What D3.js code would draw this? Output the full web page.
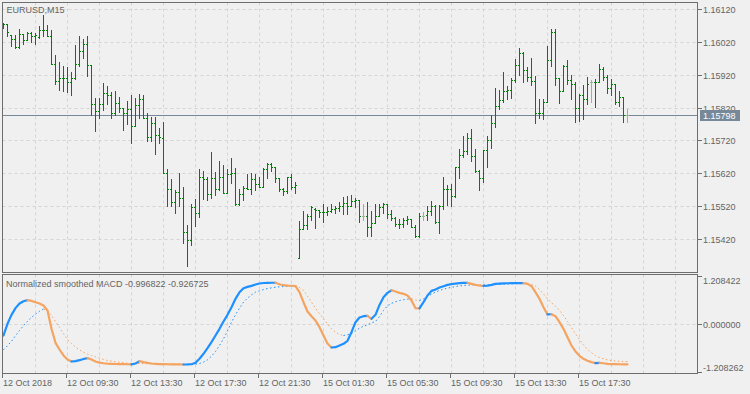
<!DOCTYPE html>
<html><head><meta charset="utf-8">
<script src="https://cdn.jsdelivr.net/npm/d3@7"></script>
<style>
html,body{margin:0;padding:0;background:#f0f0f0;}
svg{display:block;}
text{font-family:"Liberation Sans",Arial,sans-serif;font-size:9px;fill:#646464;}
</style></head><body>
<svg id="c" width="750" height="394"></svg>
<script>
const symbolLabel = "EURUSD,M15";
const indicatorLabel = "Normalized smoothed MACD -0.996822 -0.926725";

const openP = [1.16065,1.16073,1.16040,1.16029,1.16005,1.16043,1.16026,1.16046,1.16039,1.16036,1.16056,1.16056,1.16038,1.15952,1.15901,1.15909,1.15911,1.15897,1.15911,1.15952,
1.15992,1.16012,1.15950,1.15832,1.15810,1.15830,1.15864,1.15858,1.15802,1.15833,1.15818,1.15803,1.15817,1.15763,1.15828,1.15846,1.15788,1.15729,1.15773,1.15735,
1.15727,1.15620,1.15573,1.15534,1.15563,1.15544,1.15440,1.15418,1.15518,1.15499,1.15608,1.15603,1.15557,1.15605,1.15573,1.15609,1.15559,1.15617,1.15621,1.15526,
1.15557,1.15575,1.15573,1.15603,1.15587,1.15577,1.15634,1.15648,1.15638,1.15607,1.15573,1.15565,1.15609,1.15577,1.15362,1.15450,1.15464,1.15489,1.15512,1.15507,
1.15503,1.15501,1.15504,1.15511,1.15513,1.15519,1.15531,1.15521,1.15535,1.15539,1.15491,1.15491,1.15456,1.15470,1.15491,1.15517,1.15527,1.15497,1.15485,1.15466,
1.15467,1.15479,1.15481,1.15458,1.15428,1.15491,1.15492,1.15506,1.15520,1.15472,1.15520,1.15571,1.15573,1.15551,1.15640,1.15676,1.15688,1.15727,1.15672,1.15627,
1.15607,1.15690,1.15721,1.15773,1.15824,1.15842,1.15869,1.15873,1.15903,1.15950,1.15986,1.15933,1.15913,1.15901,1.15802,1.15804,1.15836,1.15964,1.16049,1.15909,
1.15869,1.15946,1.15905,1.15893,1.15820,1.15858,1.15846,1.15897,1.15897,1.15899,1.15938,1.15913,1.15881,1.15891,1.15838,1.15852,1.15798];

const highP = [1.16078,1.16073,1.16041,1.16041,1.16059,1.16045,1.16049,1.16049,1.16047,1.16069,1.16102,1.16071,1.16057,1.15980,1.15958,1.15945,1.15944,1.15927,1.16010,1.16039,
1.16029,1.16039,1.15950,1.15850,1.15848,1.15895,1.15885,1.15867,1.15871,1.15852,1.15818,1.15840,1.15858,1.15848,1.15861,1.15858,1.15802,1.15790,1.15792,1.15759,
1.15777,1.15632,1.15603,1.15570,1.15621,1.15577,1.15463,1.15526,1.15542,1.15634,1.15628,1.15610,1.15686,1.15623,1.15656,1.15646,1.15634,1.15666,1.15636,1.15573,
1.15580,1.15617,1.15620,1.15617,1.15610,1.15636,1.15650,1.15652,1.15640,1.15607,1.15575,1.15609,1.15617,1.15593,1.15476,1.15504,1.15497,1.15519,1.15513,1.15509,
1.15527,1.15517,1.15525,1.15521,1.15533,1.15547,1.15551,1.15554,1.15545,1.15539,1.15527,1.15533,1.15505,1.15527,1.15527,1.15529,1.15527,1.15509,1.15487,1.15481,
1.15483,1.15491,1.15482,1.15462,1.15499,1.15502,1.15520,1.15536,1.15522,1.15522,1.15609,1.15585,1.15587,1.15640,1.15694,1.15733,1.15743,1.15755,1.15694,1.15629,
1.15690,1.15733,1.15796,1.15881,1.15873,1.15929,1.15887,1.15909,1.15968,1.16000,1.15988,1.15944,1.15972,1.15917,1.15846,1.15846,1.16008,1.16059,1.16059,1.15911,
1.15950,1.15966,1.15919,1.15897,1.15861,1.15889,1.15913,1.15903,1.15907,1.15952,1.15942,1.15919,1.15907,1.15891,1.15871,1.15852,1.15816];

const lowP = [1.16062,1.16039,1.16008,1.16002,1.16000,1.16012,1.16025,1.16021,1.16012,1.16033,1.16037,1.16037,1.15952,1.15893,1.15875,1.15871,1.15867,1.15858,1.15907,1.15948,
1.15970,1.15917,1.15798,1.15749,1.15788,1.15812,1.15832,1.15788,1.15798,1.15806,1.15751,1.15769,1.15712,1.15763,1.15788,1.15788,1.15719,1.15717,1.15680,1.15711,
1.15620,1.15519,1.15519,1.15498,1.15519,1.15407,1.15337,1.15403,1.15461,1.15488,1.15542,1.15538,1.15546,1.15553,1.15570,1.15559,1.15559,1.15589,1.15522,1.15524,
1.15539,1.15571,1.15557,1.15570,1.15577,1.15577,1.15607,1.15626,1.15593,1.15567,1.15553,1.15559,1.15573,1.15559,1.15362,1.15450,1.15450,1.15478,1.15452,1.15487,
1.15471,1.15493,1.15503,1.15499,1.15505,1.15497,1.15497,1.15519,1.15517,1.15473,1.15478,1.15428,1.15430,1.15468,1.15491,1.15499,1.15485,1.15479,1.15460,1.15452,
1.15458,1.15466,1.15456,1.15426,1.15426,1.15479,1.15478,1.15494,1.15470,1.15439,1.15512,1.15522,1.15520,1.15549,1.15605,1.15670,1.15678,1.15656,1.15625,1.15569,
1.15593,1.15640,1.15696,1.15761,1.15816,1.15838,1.15846,1.15848,1.15897,1.15919,1.15897,1.15901,1.15889,1.15773,1.15788,1.15786,1.15836,1.15948,1.15889,1.15834,
1.15869,1.15893,1.15846,1.15777,1.15779,1.15786,1.15832,1.15836,1.15822,1.15899,1.15903,1.15863,1.15858,1.15830,1.15824,1.15777,1.15777];

const closeP = [1.16073,1.16049,1.16029,1.16005,1.16043,1.16026,1.16048,1.16039,1.16040,1.16056,1.16057,1.16038,1.15952,1.15901,1.15909,1.15911,1.15897,1.15911,1.15952,1.15992,
1.16012,1.15950,1.15832,1.15810,1.15830,1.15864,1.15858,1.15802,1.15833,1.15818,1.15803,1.15817,1.15763,1.15828,1.15846,1.15788,1.15729,1.15773,1.15735,1.15729,
1.15620,1.15573,1.15534,1.15563,1.15544,1.15440,1.15418,1.15518,1.15499,1.15608,1.15603,1.15557,1.15605,1.15573,1.15609,1.15559,1.15617,1.15621,1.15526,1.15557,
1.15575,1.15573,1.15603,1.15587,1.15577,1.15634,1.15648,1.15638,1.15607,1.15573,1.15565,1.15609,1.15577,1.15585,1.15450,1.15464,1.15489,1.15517,1.15507,1.15503,
1.15501,1.15504,1.15511,1.15513,1.15519,1.15531,1.15521,1.15535,1.15539,1.15491,1.15491,1.15456,1.15470,1.15491,1.15517,1.15527,1.15497,1.15485,1.15466,1.15467,
1.15479,1.15481,1.15458,1.15428,1.15491,1.15491,1.15506,1.15520,1.15472,1.15520,1.15571,1.15573,1.15551,1.15640,1.15676,1.15688,1.15727,1.15672,1.15627,1.15607,
1.15690,1.15721,1.15773,1.15824,1.15842,1.15869,1.15873,1.15903,1.15950,1.15986,1.15933,1.15913,1.15901,1.15802,1.15804,1.15836,1.15964,1.16049,1.15909,1.15869,
1.15946,1.15905,1.15893,1.15820,1.15858,1.15846,1.15893,1.15897,1.15899,1.15938,1.15913,1.15881,1.15891,1.15838,1.15852,1.15796,1.15798];

const macdValues = [-0.275,0.017,0.24,0.41,0.525,0.583,0.61,0.59,0.558,0.525,0.475,0.35,-0.108,-0.458,-0.625,-0.775,-0.875,-0.925,-0.915,-0.893,
-0.862,-0.842,-0.875,-0.925,-0.955,-0.97,-0.98,-0.985,-0.988,-0.99,-0.992,-0.994,-0.996,-0.975,-0.917,-0.94,-0.958,-0.975,-0.983,-0.99,
-0.993,-0.995,-0.996,-0.997,-0.998,-1.0,-0.999,-0.995,-0.958,-0.858,-0.733,-0.592,-0.442,-0.275,-0.108,0.075,0.242,0.433,0.642,0.808,
0.908,0.942,0.967,1.0,1.025,1.038,1.042,1.044,1.045,1.008,0.983,0.975,0.97,0.958,0.808,0.558,0.325,0.208,0.1,-0.067,
-0.275,-0.475,-0.575,-0.567,-0.525,-0.483,-0.408,-0.192,0.058,0.175,0.208,0.215,0.142,0.242,0.49,0.683,0.792,0.858,0.825,0.792,
0.767,0.725,0.6,0.408,0.405,0.558,0.725,0.842,0.875,0.925,0.958,0.992,1.008,1.025,1.033,1.04,1.042,1.017,0.992,0.975,
0.967,0.97,0.992,1.017,1.025,1.03,1.032,1.033,1.034,1.035,1.036,1.017,0.958,0.808,0.642,0.433,0.252,0.256,0.208,0.058,
-0.108,-0.317,-0.525,-0.675,-0.783,-0.858,-0.908,-0.942,-0.967,-0.96,-0.97,-0.983,-0.99,-0.993,-0.995,-0.996,-0.996822];

const signalValues = [-0.633,-0.53,-0.42,-0.28,-0.15,-0.03,0.08,0.18,0.26,0.33,0.385,0.35,0.225,0.075,-0.075,-0.233,-0.375,-0.475,-0.567,-0.633,
-0.692,-0.742,-0.775,-0.808,-0.842,-0.875,-0.9,-0.917,-0.933,-0.942,-0.958,-0.967,-0.972,-0.975,-0.976,-0.978,-0.98,-0.982,-0.984,-0.986,
-0.988,-0.99,-0.992,-0.993,-0.994,-0.995,-0.996,-0.997,-0.994,-0.975,-0.942,-0.883,-0.792,-0.675,-0.525,-0.358,-0.158,0.058,0.242,0.408,
0.558,0.658,0.742,0.808,0.842,0.875,0.9,0.917,0.933,0.942,0.95,0.958,0.967,0.975,0.925,0.85,0.708,0.558,0.408,0.267,
0.142,0.017,-0.108,-0.192,-0.25,-0.275,-0.258,-0.225,-0.158,-0.092,-0.042,-0.008,0.042,0.075,0.2,0.35,0.47,0.53,0.57,0.6,
0.62,0.635,0.645,0.61,0.6,0.64,0.7,0.76,0.81,0.85,0.885,0.91,0.93,0.95,0.965,0.975,0.985,0.99,0.995,0.993,
0.99,0.991,0.995,1.0,1.005,1.01,1.014,1.018,1.021,1.024,1.026,1.027,1.008,0.958,0.875,0.767,0.642,0.542,0.458,0.35,
0.225,0.075,-0.075,-0.233,-0.375,-0.508,-0.625,-0.708,-0.775,-0.825,-0.858,-0.885,-0.903,-0.913,-0.92,-0.924,-0.926725];

const priceTicks = [1.16120,1.16020,1.15920,1.15820,1.15720,1.15620,1.15520,1.15420];
const macdTicks = [1.208422, 0, -1.208262];
const macdTickLabels = ["1.208422","0.000000","-1.208262"];
const timeLabels = ["12 Oct 2018","12 Oct 09:30","12 Oct 13:30","12 Oct 17:30","12 Oct 21:30","15 Oct 01:30","15 Oct 05:30","15 Oct 09:30","15 Oct 13:30","15 Oct 17:30"];
const timeLabelBars = [0,16,32,48,64,80,96,112,128,144];
const gridBars = [8,16,24,32,40,48,56,64,72,80,88,96,104,112,120,128,136,144,152,160,168];
const currentPrice = 1.15798;

const N = closeP.length;
const svg = d3.select("#c");
const C = {bg:"#f0f0f0", frame:"#6e6e6e", grid:"#d4d4d4", text:"#5a5a5a", bar:"#008000", doji:"#a8a8a8",
  up:"#1e90ff", down:"#f4a460", cur:"#778899"};

svg.append("rect").attr("width",750).attr("height",394).attr("fill",C.bg);

const x = d3.scaleLinear().domain([0, N-1]).range([3.5, 3.5 + 4*(N-1)]);
const yP = d3.scaleLinear().domain([1.15420, 1.16120]).range([239.5, 9.5]);
const yM = d3.scaleLinear().domain([-1.208262, 1.208422]).range([372.8, 276.2]);

const main = {x0:2.5, x1:697.5, y0:2.5, y1:272.5};
const sub = {x0:2.5, x1:697.5, y0:274.5, y1:373.5};

const defs = svg.append("defs");
defs.append("clipPath").attr("id","cm").append("rect").attr("x",3).attr("y",3).attr("width",694).attr("height",269);
defs.append("clipPath").attr("id","cs").append("rect").attr("x",3).attr("y",275).attr("width",694).attr("height",98);

// grids
const gM = svg.append("g").attr("clip-path","url(#cm)");
const gS = svg.append("g").attr("clip-path","url(#cs)");
gridBars.forEach(b => {
  const gx = Math.round(x(b)-0.5)+0.5;
  gM.append("line").attr("x1",gx).attr("x2",gx).attr("y1",main.y0).attr("y2",main.y1)
    .attr("stroke",C.grid).attr("stroke-dasharray","3,3");
  gS.append("line").attr("x1",gx).attr("x2",gx).attr("y1",sub.y0).attr("y2",sub.y1)
    .attr("stroke",C.grid).attr("stroke-dasharray","3,3");
});
priceTicks.forEach(p => {
  const gy = Math.floor(yP(p))+0.5;
  gM.append("line").attr("x1",main.x0).attr("x2",main.x1).attr("y1",gy).attr("y2",gy)
    .attr("stroke",C.grid).attr("stroke-dasharray","3,3");
});
{
  const gy = Math.floor(yM(0))+0.5;
  gS.append("line").attr("x1",sub.x0).attr("x2",sub.x1).attr("y1",gy).attr("y2",gy)
    .attr("stroke",C.grid).attr("stroke-dasharray","3,3");
}

// current price line
{
  const cy = Math.floor(yP(currentPrice))+0.5;
  gM.append("line").attr("x1",main.x0).attr("x2",main.x1).attr("y1",cy).attr("y2",cy)
    .attr("stroke",C.cur).attr("stroke-width",1);
}

// bars
const gb = gM.append("g").attr("shape-rendering","crispEdges");
for (let i=0;i<N;i++){
  const col = Math.floor(x(i));
  const color = openP[i]===closeP[i] ? C.doji : C.bar;
  const yh = Math.floor(yP(highP[i])), yl = Math.floor(yP(lowP[i]));
  gb.append("rect").attr("x",col).attr("y",yh).attr("width",1).attr("height",Math.max(1,yl-yh+1)).attr("fill",color);
  gb.append("rect").attr("x",col-1).attr("y",Math.floor(yP(openP[i]))).attr("width",1).attr("height",1).attr("fill",color);
  gb.append("rect").attr("x",col+1).attr("y",Math.floor(yP(closeP[i]))).attr("width",1).attr("height",1).attr("fill",color);
}

// colored lines
function colorRuns(vals){
  const cols = [];
  let prev = C.up;
  for (let i=0;i<vals.length;i++){
    let c = prev;
    if (i>0){ if (vals[i]>vals[i-1]) c=C.up; else if (vals[i]<vals[i-1]) c=C.down; }
    cols.push(c); prev=c;
  }
  const runs=[]; let cur=null;
  for (let i=1;i<vals.length;i++){
    if (!cur || cur.color!==cols[i]){ cur={color:cols[i], pts:[i-1]}; runs.push(cur); }
    cur.pts.push(i);
  }
  return runs;
}
const lineGen = vals => d3.line().x(i=>x(i)).y(i=>yM(vals[i]));
colorRuns(signalValues).forEach(r=>{
  gS.append("path").attr("d",lineGen(signalValues)(r.pts)).attr("fill","none")
    .attr("stroke",r.color).attr("stroke-width",1).attr("stroke-dasharray","1.5,2.5");
});
colorRuns(macdValues).forEach(r=>{
  gS.append("path").attr("d",lineGen(macdValues)(r.pts)).attr("fill","none")
    .attr("stroke",r.color).attr("stroke-width",2.2).attr("stroke-linejoin","round").attr("stroke-linecap","round");
});

// frames
const fr = svg.append("g").attr("shape-rendering","crispEdges");
[main, sub].forEach(p=>{
  fr.append("rect").attr("x",p.x0).attr("y",p.y0).attr("width",p.x1-p.x0).attr("height",p.y1-p.y0)
    .attr("fill","none").attr("stroke",C.frame).attr("stroke-width",1);
});

// price axis
const ax = svg.append("g");
priceTicks.forEach(p=>{
  const ty = Math.floor(yP(p))+0.5;
  ax.append("line").attr("x1",697.5).attr("x2",701.5).attr("y1",ty).attr("y2",ty).attr("stroke",C.frame).attr("shape-rendering","crispEdges");
  ax.append("text").attr("x",703).attr("y",ty+3.5).text(d3.format(".5f")(p));
});
macdTicks.forEach((v,k)=>{
  const ty = Math.floor(yM(v))+0.5;
  ax.append("line").attr("x1",697.5).attr("x2",701.5).attr("y1",ty).attr("y2",ty).attr("stroke",C.frame).attr("shape-rendering","crispEdges");
  const ly = Math.min(Math.max(ty, 280), 367.5);
  ax.append("text").attr("x",703).attr("y",ly+3.5).text(macdTickLabels[k]);
});
// current price label
{
  const cy = Math.floor(yP(currentPrice))+0.5;
  ax.append("rect").attr("x",700).attr("y",cy-5.5).attr("width",40).attr("height",11).attr("fill",C.cur);
  ax.append("text").attr("x",703).attr("y",cy+3.5).style("fill","#ffffff").text(d3.format(".5f")(currentPrice));
}

// time axis
timeLabelBars.forEach((b,k)=>{
  const tx = Math.floor(x(b))+0.5 - 1;
  ax.append("line").attr("x1",tx).attr("x2",tx).attr("y1",373.5).attr("y2",377.5).attr("stroke",C.frame).attr("shape-rendering","crispEdges");
  ax.append("text").attr("x",tx+0.5).attr("y",385.5).text(timeLabels[k]);
});

// titles
svg.append("text").attr("x",6.5).attr("y",12.5).text(symbolLabel);
svg.append("text").attr("x",6).attr("y",286.5).text(indicatorLabel);
</script>
</body></html>
